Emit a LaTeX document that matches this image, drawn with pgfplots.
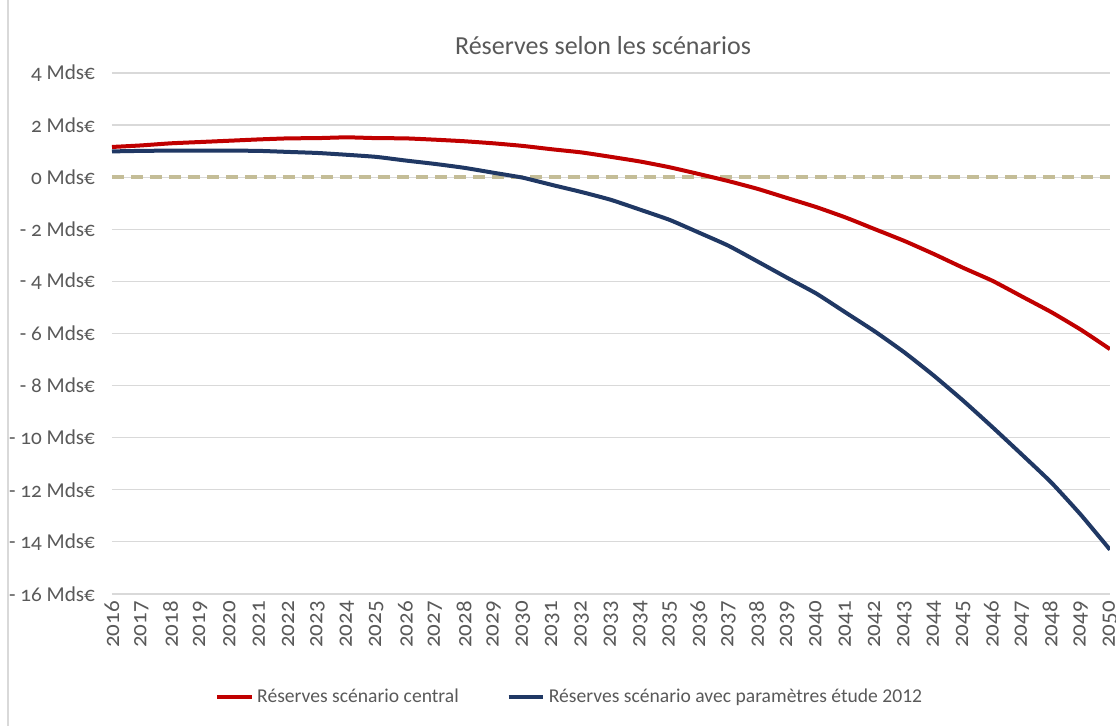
\documentclass[border=0pt]{standalone}
\usepackage{fontspec}
\setmainfont{Carlito}
\newfontfamily\osf[Numbers=OldStyle]{Carlito}
\usepackage{pgfplots}
\pgfplotsset{compat=1.18}

\definecolor{rouge}{HTML}{C00000}
\definecolor{bleu}{HTML}{203864}
\definecolor{sable}{HTML}{C4BD97}
\definecolor{grille}{HTML}{D9D9D9}
\definecolor{texte}{HTML}{595959}

\begin{document}
\begin{tikzpicture}
\begin{axis}[
  scale only axis,
  width=499pt, height=260.5pt,
  xmin=2016, xmax=2050,
  ymin=-16, ymax=4,
  axis line style={draw=none},
  major tick length=0pt,
  ymajorgrids=true,
  grid style={grille, line width=0.6pt},
  xtick={2016,2017,...,2050},
  ytick={-16,-14,...,4},
  yticklabels={- 16 Mds€,- 14 Mds€,- 12 Mds€,- 10 Mds€,- 8 Mds€,- 6 Mds€,- 4 Mds€,- 2 Mds€,0 Mds€,2 Mds€,4 Mds€},
  /pgf/number format/.cd, 1000 sep={}, assume math mode=true, /pgfplots/.cd,
  xticklabel style={font=\osf\fontsize{11.5}{13}\selectfont, text=texte,
    rotate=90, anchor=east},
  yticklabel style={font=\osf\fontsize{10.6}{12}\selectfont, text=texte,
    xshift=-5pt},
  title={Réserves selon les scénarios},
  title style={font=\fontsize{13}{15}\selectfont, text=texte, anchor=center,
    at={(axis description cs:0.492,1.029)}},
  legend style={draw=none, fill=none, at={(axis description cs:0.4595,-0.198)},
    anchor=center, font=\fontsize{9.8}{12}\selectfont, text=texte,
    /tikz/every even column/.append style={column sep=22pt}},
  legend columns=2,
]
\addplot[sable, line width=1.8pt, dash pattern=on 6pt off 3.5pt, forget plot]
  coordinates {(2016,0)(2050,0)};

\addplot[rouge, line width=2pt, smooth, tension=0.3] coordinates {
(2016,1.16)(2017,1.22)(2018,1.30)(2019,1.35)(2020,1.40)(2021,1.45)(2022,1.49)
(2023,1.50)(2024,1.53)(2025,1.50)(2026,1.49)(2027,1.44)(2028,1.38)(2029,1.30)
(2030,1.20)(2031,1.07)(2032,0.95)(2033,0.78)(2034,0.60)(2035,0.38)(2036,0.12)
(2037,-0.15)(2038,-0.45)(2039,-0.80)(2040,-1.15)(2041,-1.55)(2042,-2.00)
(2043,-2.45)(2044,-2.95)(2045,-3.48)(2046,-3.98)(2047,-4.58)(2048,-5.18)
(2049,-5.85)(2050,-6.60)
};
\addlegendentry{Réserves scénario central}

\addplot[bleu, line width=2pt, smooth, tension=0.3] coordinates {
(2016,0.99)(2017,1.01)(2018,1.02)(2019,1.02)(2020,1.02)(2021,1.01)(2022,0.97)
(2023,0.93)(2024,0.86)(2025,0.78)(2026,0.64)(2027,0.51)(2028,0.36)(2029,0.17)
(2030,-0.02)(2031,-0.30)(2032,-0.57)(2033,-0.87)(2034,-1.25)(2035,-1.64)
(2036,-2.13)(2037,-2.63)(2038,-3.24)(2039,-3.86)(2040,-4.47)(2041,-5.20)
(2042,-5.93)(2043,-6.73)(2044,-7.62)(2045,-8.58)(2046,-9.60)(2047,-10.65)
(2048,-11.72)(2049,-12.95)(2050,-14.30)
};
\addlegendentry{Réserves scénario avec paramètres étude 2012}
\end{axis}
\draw[grille, line width=0.75pt] (-52pt,-66pt) -- (-52pt,297pt);
\pgfresetboundingbox
\path[use as bounding box] (-56pt,-66pt) rectangle (502pt,297pt);
\end{tikzpicture}
\end{document}
